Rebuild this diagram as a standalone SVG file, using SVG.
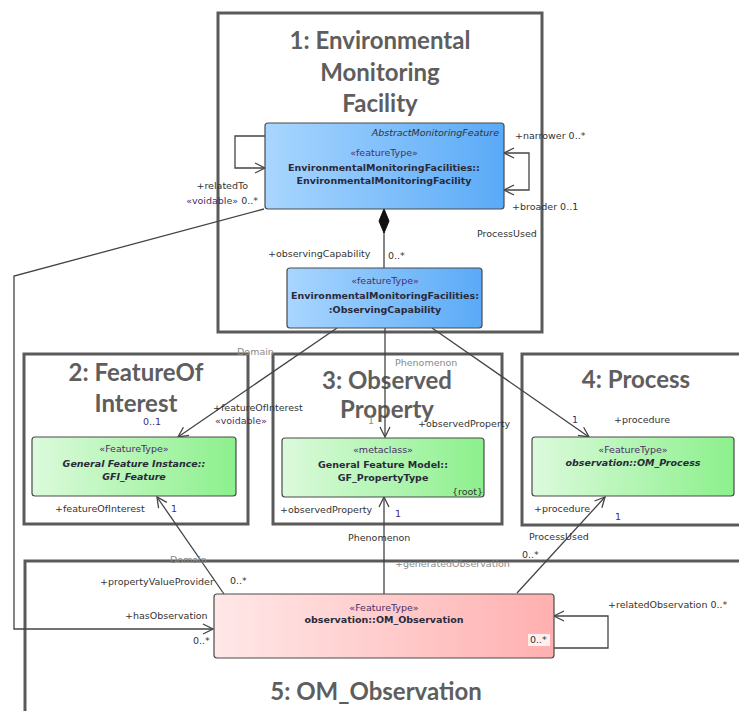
<svg xmlns="http://www.w3.org/2000/svg" width="739" height="711" viewBox="0 0 739 711">
<style>
.frame{fill:none;stroke:#5a5a5a;stroke-width:3}
.title{font-family:Lato,"Open Sans",sans-serif;font-weight:bold;font-size:24px;fill:#5e5e5e;text-anchor:middle}
.cls{stroke:#4a4a4a;stroke-width:1.2}
.t{font-family:"DejaVu Sans",sans-serif;font-size:9.5px;fill:#333}
.c{text-anchor:middle}
.b{font-weight:bold;fill:#2a2a3a}
.i{font-style:italic}
.st{fill:#4a2f66}
.m{fill:#3a2f7a}
.f{fill:#8a8a8a}
.e{text-anchor:end}
.conn{fill:none;stroke:#444;stroke-width:1.3}
</style>
<defs>
<linearGradient id="gBlue" x1="0" y1="0" x2="1" y2="0"><stop offset="0" stop-color="#a9d6ff"/><stop offset="1" stop-color="#5aaaf7"/></linearGradient>
<linearGradient id="gGreen" x1="0" y1="0" x2="1" y2="0"><stop offset="0" stop-color="#dcfadc"/><stop offset="1" stop-color="#8cf08c"/></linearGradient>
<linearGradient id="gPink" x1="0" y1="0" x2="1" y2="0"><stop offset="0" stop-color="#ffe8e8"/><stop offset="1" stop-color="#ffb0b0"/></linearGradient>
<marker id="arr" viewBox="0 0 12 12" refX="11" refY="6" markerWidth="12" markerHeight="12" markerUnits="userSpaceOnUse" orient="auto-start-reverse"><path d="M1,1 L11,6 L1,11" fill="none" stroke="#444" stroke-width="1.3"/></marker>
<marker id="dia" viewBox="0 0 26 12" refX="1" refY="6" markerWidth="26" markerHeight="12" markerUnits="userSpaceOnUse" orient="auto"><path d="M1,6 L13,1 L25,6 L13,11 Z" fill="#111" stroke="#111"/></marker>
</defs>
<rect width="739" height="711" fill="#fff"/>

<g id="frame1"><rect class="frame" x="218" y="13" width="324" height="319"/>
<text class="title" x="380" y="49">1: Environmental</text><text class="title" x="380" y="81">Monitoring</text><text class="title" x="380" y="112">Facility</text></g>
<g id="frame2"><rect class="frame" x="24" y="354" width="224" height="170"/>
<text class="title" x="136" y="381">2: FeatureOf</text><text class="title" x="136" y="412">Interest</text></g>
<g id="frame3"><rect class="frame" x="273" y="354" width="229" height="170"/>
<text class="title" x="387" y="389">3: Observed</text><text class="title" x="387" y="418">Property</text></g>
<g id="frame4"><rect class="frame" x="522" y="354" width="240" height="171"/>
<text class="title" x="636" y="388">4: Process</text></g>
<g id="frame5"><rect class="frame" x="25" y="561" width="740" height="200"/>
<text class="title" x="376" y="700">5: OM_Observation</text></g>

<g id="connectors">
<path class="conn" d="M264,209 L14,276 L14,629 L213,629" marker-end="url(#arr)"/>
<path class="conn" d="M265,136 H235 V168 H265" marker-end="url(#arr)"/>
<path class="conn" d="M504,153 H529 V190 H504" marker-start="url(#arr)" marker-end="url(#arr)"/>
<path class="conn" d="M384,209 V268" marker-start="url(#dia)"/>
<path class="conn" d="M337,328 L178,437" marker-end="url(#arr)"/>
<path class="conn" d="M385,328 V437" marker-end="url(#arr)"/>
<path class="conn" d="M432,328 L589,437" marker-end="url(#arr)"/>
<path class="conn" d="M224,594 L157,497" marker-end="url(#arr)"/>
<path class="conn" d="M384,594 V497" marker-end="url(#arr)"/>
<path class="conn" d="M517,593 L605,497" marker-end="url(#arr)"/>
<path class="conn" d="M554,648 H608 V616 H554" marker-end="url(#arr)"/>
<text class="t" x="515" y="139">+narrower 0..*</text>
<text class="t" x="512" y="210">+broader 0..1</text>
<text class="t" x="477" y="237">ProcessUsed</text>
<text class="t e" x="248" y="189">+relatedTo</text>
<text class="t e" x="258" y="204"><tspan class="st">«voidable»</tspan> 0..*</text>
<text class="t" x="268" y="257">+observingCapability</text>
<text class="t" x="388" y="259">0..*</text>
<text class="t f" x="237" y="355">Domain</text>
<text class="t f" x="395" y="366">Phenomenon</text>
<text class="t m" x="143" y="425">0..1</text>
<text class="t" x="213" y="411">+featureOfInterest</text>
<text class="t st" x="215" y="424">«voidable»</text>
<text class="t f" x="368" y="424">1</text>
<text class="t" x="418" y="427">+observedProperty</text>
<text class="t m" x="572" y="423">1</text>
<text class="t" x="614" y="423">+procedure</text>
<text class="t" x="55" y="512">+featureOfInterest</text>
<text class="t m" x="171" y="512">1</text>
<text class="t" x="280" y="513">+observedProperty</text>
<text class="t m" x="395" y="517">1</text>
<text class="t" x="534" y="512">+procedure</text>
<text class="t m" x="615" y="520">1</text>
<text class="t" x="348" y="541">Phenomenon</text>
<text class="t" x="529" y="540">ProcessUsed</text>
<text class="t" x="522" y="558">0..*</text>
<text class="t f" x="395" y="567">+generatedObservation</text>
<text class="t f" x="170" y="563">Domain</text>
<text class="t" x="100" y="585">+propertyValueProvider</text>
<text class="t" x="230" y="584">0..*</text>
<text class="t" x="125" y="619">+hasObservation</text>
<text class="t" x="193" y="644">0..*</text>
<text class="t" x="608" y="608">+relatedObservation 0..*</text>
</g>

<g id="EnvironmentalMonitoringFacility">
<rect class="cls" x="265" y="123" width="239" height="86" rx="3" fill="url(#gBlue)"/>
<text class="t i e" x="499" y="136">AbstractMonitoringFeature</text>
<text class="t c st" x="384" y="156">«featureType»</text>
<text class="t c b" x="384" y="171">EnvironmentalMonitoringFacilities::</text>
<text class="t c b" x="384" y="184">EnvironmentalMonitoringFacility</text>
</g>
<g id="ObservingCapability">
<rect class="cls" x="287" y="268" width="195" height="60" rx="3" fill="url(#gBlue)"/>
<text class="t c st" x="385" y="284">«featureType»</text>
<text class="t c b" x="385" y="299">EnvironmentalMonitoringFacilities:</text>
<text class="t c b" x="385" y="313">:ObservingCapability</text>
</g>
<g id="GFI_Feature">
<rect class="cls" x="32" y="437" width="204" height="59" rx="3" fill="url(#gGreen)"/>
<text class="t c st" x="134" y="452">«FeatureType»</text>
<text class="t c b i" x="134" y="467">General Feature Instance::</text>
<text class="t c b i" x="134" y="480">GFI_Feature</text>
</g>
<g id="GF_PropertyType">
<rect class="cls" x="282" y="438" width="202" height="59" rx="3" fill="url(#gGreen)"/>
<text class="t c st" x="383" y="453">«metaclass»</text>
<text class="t c b" x="383" y="468">General Feature Model::</text>
<text class="t c b" x="383" y="481">GF_PropertyType</text>
<text class="t" x="452" y="495">{root}</text>
</g>
<g id="OM_Process">
<rect class="cls" x="532" y="437" width="202" height="59" rx="3" fill="url(#gGreen)"/>
<text class="t c st" x="633" y="453">«FeatureType»</text>
<text class="t c b i" x="633" y="466">observation::OM_Process</text>
</g>
<g id="OM_Observation">
<rect class="cls" x="214" y="594" width="340" height="64" rx="3" fill="url(#gPink)"/>
<text class="t c st" x="384" y="611">«FeatureType»</text>
<text class="t c b" x="384" y="623">observation::OM_Observation</text>
<rect x="528" y="634" width="22" height="12" fill="#fff0f0"/>
<text class="t" x="530" y="643">0..*</text>
</g>
</svg>
